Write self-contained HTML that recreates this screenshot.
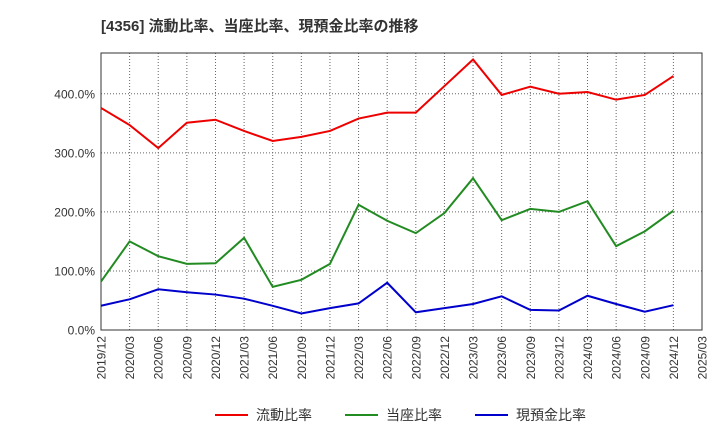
<!DOCTYPE html>
<html><head><meta charset="utf-8"><style>
body{margin:0;background:#fff;font-family:"Liberation Sans","Noto Sans CJK JP",sans-serif}
</style></head><body>
<svg id="c" width="720" height="440" xmlns="http://www.w3.org/2000/svg">
<text x="101" y="31" font-size="15" font-weight="bold" fill="#333" font-family="Liberation Sans, Noto Sans CJK JP, sans-serif">[4356]  流動比率、当座比率、現預金比率の推移</text>
<g id="grid"></g><g id="axes"></g><g id="series"></g>
<g font-size="14" font-family="Liberation Sans, Noto Sans CJK JP, sans-serif" fill="#333">
<line x1="215" y1="415" x2="248" y2="415" stroke="#e00" stroke-width="2"/><text x="256" y="420">流動比率</text>
<line x1="345" y1="415" x2="378" y2="415" stroke="#228b22" stroke-width="2"/><text x="386" y="420">当座比率</text>
<line x1="475" y1="415" x2="508" y2="415" stroke="#00c" stroke-width="2"/><text x="516" y="420">現預金比率</text>
</g>
</svg>
<script>
const tickLabels=["2019/12","2020/03","2020/06","2020/09","2020/12","2021/03","2021/06","2021/09","2021/12","2022/03","2022/06","2022/09","2022/12","2023/03","2023/06","2023/09","2023/12","2024/03","2024/06","2024/09","2024/12","2025/03"];
const yTicks=[0,100,200,300,400];
const currentRatio=[376,347,308,351,356,337,320,327,337,358,368,368,413,458,398,412,400,403,390,398,430];
const quickRatio=[82,150,125,112,113,156,73,85,112,212,185,164,198,257,186,205,200,218,142,167,202];
const cashRatio=[41,52,69,64,60,53,41,28,37,45,80,30,37,44,57,34,33,58,44,31,42];
const L=101,R=702,T=53,B=330,yMax=469;
const NS="http://www.w3.org/2000/svg";
const x=i=>L+i*(R-L)/(tickLabels.length-1);
const y=v=>B-v*(B-T)/yMax;
function mk(t,a,p){const e=document.createElementNS(NS,t);for(const k in a)e.setAttribute(k,a[k]);p.appendChild(e);return e;}
const g=document.getElementById('grid'),ax=document.getElementById('axes'),s=document.getElementById('series');
tickLabels.forEach((lab,i)=>{
 const l=mk('line',{x1:x(i),x2:x(i),y1:T,y2:B,stroke:'#666','stroke-width':1,'stroke-dasharray':'1,2'},g);
 
 
 const t=mk('text',{transform:`translate(${x(i)+4.5},${B+6}) rotate(-90)`,'text-anchor':'end','font-size':12,fill:'#333'},ax);
 t.textContent=lab;
 
 
});
yTicks.forEach(v=>{
 const l=mk('line',{x1:L,x2:R,y1:y(v),y2:y(v),stroke:'#666','stroke-width':1,'stroke-dasharray':'1,2'},g);
 
 
 const t=mk('text',{x:L-6,y:y(v)+4.5,'text-anchor':'end','font-size':12,fill:'#333'},ax);
 t.textContent=v.toFixed(1)+'%';
 
 
});
const fr=mk('rect',{x:L,y:T,width:R-L,height:B-T,fill:'none',stroke:'#333','stroke-width':1},ax);


[[currentRatio,'#e00','current-ratio-line'],[quickRatio,'#228b22','quick-ratio-line'],[cashRatio,'#00c','cash-ratio-line']].forEach(([d,c,n])=>{
 const p=mk('polyline',{points:d.map((v,i)=>x(i)+','+y(v)).join(' '),fill:'none',stroke:c,'stroke-width':2},s);
 
 
});
</script>
</body></html>
